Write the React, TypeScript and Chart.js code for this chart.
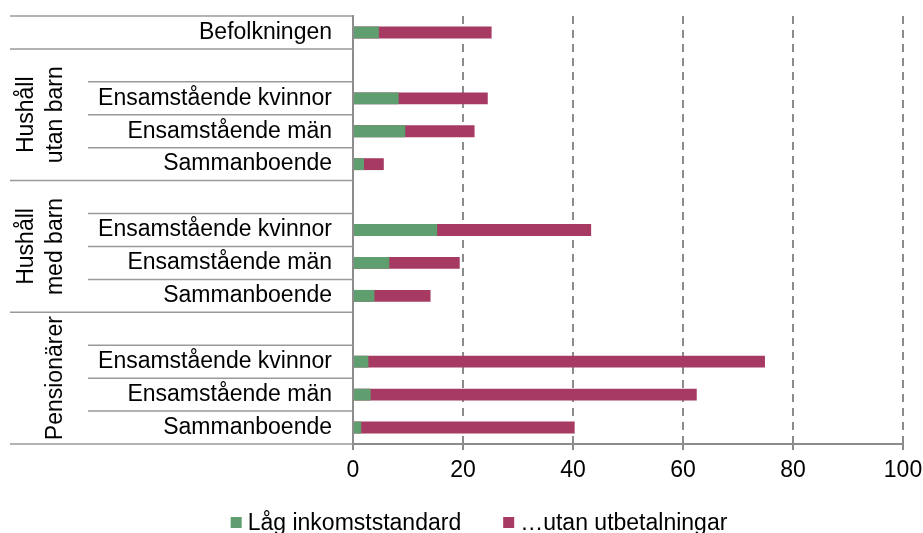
import React, { useEffect, useRef } from 'react';
import { Chart, registerables } from 'chart.js';

Chart.register(...registerables);

// ---- data ----
const categories = [
  'Befolkningen',
  '',
  'Ensamstående kvinnor',
  'Ensamstående män',
  'Sammanboende',
  '',
  'Ensamstående kvinnor',
  'Ensamstående män',
  'Sammanboende',
  '',
  'Ensamstående kvinnor',
  'Ensamstående män',
  'Sammanboende',
];

const lowIncome = [4.7, null, 8.3, 9.5, 2.0, null, 15.3, 6.6, 3.9, null, 2.8, 3.2, 1.5];
const withoutPayments = [25.2, null, 24.5, 22.1, 5.6, null, 43.3, 19.4, 14.1, null, 74.9, 62.5, 40.3];

const seriesLabels = ['Låg inkomststandard', '…utan utbetalningar'];
const seriesColors = ['#5f9e6e', '#a63a62'];

const groupLabels = [['Hushåll', 'utan barn'], ['Hushåll', 'med barn'], ['Pensionärer']];
const groupFirstRow = [1, 5, 9];
const groupLastRow = [4, 8, 12];

const xMin = 0;
const xMax = 100;
const xStep = 20;

const FONT = '"Liberation Sans", Arial, Helvetica, sans-serif';
const FS = 23;
const LINE = '#9a9a9a';
const AXIS = '#8c8c8c';

const decorPlugin = {
  id: 'decor',
  afterDraw(chart: any) {
    const { ctx, chartArea, scales } = chart;
    const y = scales.y;
    const n = categories.length;
    const step = (y.getPixelForValue(n - 1) - y.getPixelForValue(0)) / (n - 1);
    const boundary = (i: number) => y.getPixelForValue(i) - step / 2;
    const groupEdges = new Set<number>([0, n]);
    groupFirstRow.forEach((s, k) => {
      groupEdges.add(s);
      groupEdges.add(groupLastRow[k] + 1);
    });

    ctx.save();
    // row separators in the category label area
    ctx.strokeStyle = LINE;
    ctx.lineWidth = 1.5;
    for (let i = 0; i <= n; i++) {
      const py = boundary(i);
      const x0 = groupEdges.has(i) ? 10 : 88;
      ctx.beginPath();
      ctx.moveTo(x0, py);
      ctx.lineTo(chartArea.left, py);
      ctx.stroke();
    }

    // group labels (rotated)
    ctx.fillStyle = '#000';
    ctx.font = `${FS}px ${FONT}`;
    ctx.textAlign = 'center';
    ctx.textBaseline = 'alphabetic';
    groupLabels.forEach((lines, k) => {
      const cy = (boundary(groupFirstRow[k]) + boundary(groupLastRow[k] + 1)) / 2;
      ctx.save();
      ctx.translate(0, cy);
      ctx.rotate(-Math.PI / 2);
      const last = lines.length - 1;
      lines.forEach((t, j) => {
        const baseX = 62 - (last - j) * 29;
        ctx.fillText(t, 0, baseX);
      });
      ctx.restore();
    });

    // legend
    const box = 11;
    const gapBoxText = 6;
    const itemGap = 42;
    ctx.textAlign = 'left';
    const widths = chart.data.datasets.map((d: any) => ctx.measureText(d.label).width);
    const total = widths.reduce((a: number, w: number) => a + box + gapBoxText + w, 0) + itemGap * (widths.length - 1);
    let lx = 479 - total / 2;
    chart.data.datasets.forEach((d: any, k: number) => {
      ctx.fillStyle = d.backgroundColor;
      ctx.fillRect(lx, 517, box, box);
      ctx.fillStyle = '#000';
      ctx.fillText(d.label, lx + box + gapBoxText, 529.5);
      lx += box + gapBoxText + widths[k] + itemGap;
    });
    ctx.restore();
  },
};

export default function App() {
  const ref = useRef<HTMLCanvasElement | null>(null);

  useEffect(() => {
    document.body.style.margin = '0';
    const canvas = ref.current;
    if (!canvas) return;
    const chart = new Chart(canvas, {
      type: 'bar',
      data: {
        labels: categories,
        datasets: [
          {
            label: seriesLabels[0],
            data: lowIncome,
            backgroundColor: seriesColors[0],
            grouped: false,
            barPercentage: 0.36,
            categoryPercentage: 1,
          } as any,
          {
            label: seriesLabels[1],
            data: withoutPayments,
            backgroundColor: seriesColors[1],
            grouped: false,
            barPercentage: 0.36,
            categoryPercentage: 1,
          } as any,
        ],
      },
      options: {
        indexAxis: 'y',
        animation: false,
        responsive: false,
        devicePixelRatio: 1,
        layout: { padding: { top: 16, right: 20, left: 0, bottom: 0 } },
        plugins: {
          legend: { display: false },
          tooltip: { enabled: false },
        },
        scales: {
          x: {
            type: 'linear',
            position: 'bottom',
            min: xMin,
            max: xMax,
            afterFit: (s: any) => {
              s.height = 89;
              s.paddingLeft = 0;
              s.paddingRight = 0;
              s.paddingTop = 0;
              s.paddingBottom = 0;
            },
            ticks: {
              stepSize: xStep,
              padding: 7,
              color: '#000',
              font: { family: FONT, size: FS },
              maxRotation: 0,
            },
            grid: {
              color: (c: any) => (c.tick && c.tick.value === 0 ? 'rgba(0,0,0,0)' : AXIS),
              lineWidth: 2,
              drawTicks: true,
              tickLength: 6,
              tickColor: AXIS,
              tickWidth: 2,
              tickBorderDash: [],
            },
            border: { display: true, color: AXIS, width: 2, dash: [8, 6] },
          },
          y: {
            type: 'category',
            position: 'left',
            afterFit: (s: any) => {
              s.width = 353;
              s.paddingLeft = 0;
              s.paddingRight = 0;
              s.paddingTop = 0;
              s.paddingBottom = 0;
            },
            ticks: {
              autoSkip: false,
              padding: 21,
              color: '#000',
              font: { family: FONT, size: FS },
            },
            grid: { display: false, drawTicks: false },
            border: { display: true, color: AXIS, width: 2 },
          },
        },
      },
      plugins: [decorPlugin],
    } as any);
    return () => chart.destroy();
  }, []);

  return (
    <div style={{ width: 923, height: 533, overflow: 'hidden', background: '#fff' }}>
      <canvas ref={ref} width={923} height={533} style={{ display: 'block' }} />
    </div>
  );
}
